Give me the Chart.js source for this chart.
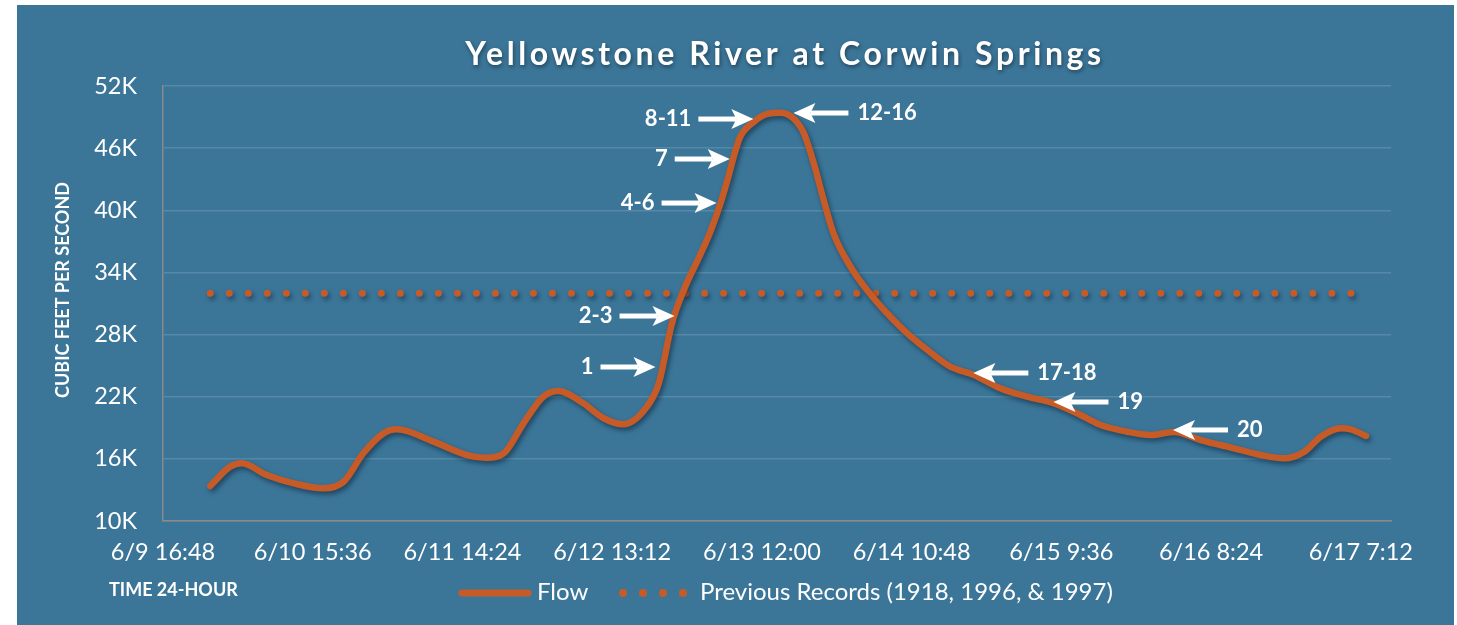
<!DOCTYPE html>
<html>
<head>
<meta charset="utf-8">
<script src="https://cdn.jsdelivr.net/npm/chart.js@4.4.0/dist/chart.umd.min.js"></script>
<style>
  html, body { margin:0; padding:0; background:#fff; }
  #wrap { position:relative; width:1457px; height:625px; }
</style>
</head>
<body>
<div id="wrap"><canvas id="flow_chart" width="1457" height="625"></canvas></div>
<script>
// hours after 6/9 16:48
const flowHours = [7.2, 10.2, 12.0, 15.8, 19.9, 24.4, 27.5, 30.5, 33.6, 35.6,
                   41.2, 46.3, 49.3, 51.9, 54.9, 57.9, 60.2, 64.0, 67.1, 70.1,
                   73.7, 75.5, 77.5, 79.3, 81.8, 83.4, 84.9, 86.1, 86.9, 87.9,
                   90.0, 92.0, 94.0, 96.0, 97.6, 99.1, 100.6, 102.1, 104.7, 107.2,
                   109.8, 112.8, 116.4, 119.9, 123.5, 127.5, 131.6, 135.7, 139.2, 142.8,
                   146.8, 150.4, 154.0, 158.0, 163.1, 167.2, 170.7, 173.8, 176.3, 179.4,
                   180.9, 183.2];
// cubic feet per second
const flowValues = [13380, 15240, 15570, 14440, 13640, 13160, 13790, 16540, 18470, 18850,
                    17660, 16370, 16110, 16540, 19430, 22000, 22550, 21360, 19920, 19340,
                    21040, 23300, 29090, 32300, 35700, 38000, 40670, 43240, 45170, 47100,
                    48550, 49300, 49420, 48880, 47430, 44540, 41000, 37780, 34550, 32300,
                    30370, 28440, 26510, 24900, 24100, 22810, 22000, 21360, 20400, 19270,
                    18620, 18300, 18600, 17820, 17020, 16370, 16050, 16690, 18140, 18950,
                    18850, 18210];
const recordValue = 32000;

const tickHours  = [0, 22.8, 45.6, 68.4, 91.2, 114.0, 136.8, 159.6, 182.4];
const tickLabels = ["6/9 16:48", "6/10 15:36", "6/11 14:24", "6/12 13:12", "6/13 12:00",
                    "6/14 10:48", "6/15 9:36", "6/16 8:24", "6/17 7:12"];

// numbered arrows pointing at the curve
const calloutLabels = ["1", "2-3", "4-6", "7", "8-11", "12-16", "17-18", "19", "20"];
const calloutHours  = [75.0, 77.9, 84.3, 86.3, 89.9, 96.0, 123.4, 135.6, 153.8];
const calloutValues = [24870, 29790, 40700, 44950, 48810, 49390, 24290, 21490, 18790];
const calloutSide   = ["left", "left", "left", "left", "left", "right", "right", "right", "right"];

const BG = "#3b7699";
const ORANGE = "#c65b27";
const FONT = "Lato, 'Open Sans', sans-serif";

const panelBg = {
  id: "panelBg",
  beforeDraw(chart){
    const ctx = chart.ctx;
    ctx.save();
    ctx.fillStyle = BG;
    ctx.fillRect(17, 5, 1437, 620);
    ctx.restore();
  }
};

const lineShadow = {
  id: "lineShadow",
  beforeDatasetDraw(chart){
    const ctx = chart.ctx;
    ctx.save();
    ctx.shadowColor = "rgba(10,30,50,0.55)";
    ctx.shadowBlur = 5;
    ctx.shadowOffsetX = 2;
    ctx.shadowOffsetY = 3;
  },
  afterDatasetDraw(chart){
    chart.ctx.restore();
  }
};

function drawArrow(ctx, tipX, tipY, dir){
  const len = 55, head = 22, half = 10, notch = 5;
  ctx.fillRect(Math.min(tipX - dir*len, tipX - dir*(head - notch)), tipY - 2.5,
               len - head + notch, 5);
  ctx.beginPath();
  ctx.moveTo(tipX, tipY);
  ctx.lineTo(tipX - dir*head, tipY - half);
  ctx.lineTo(tipX - dir*(head - notch), tipY);
  ctx.lineTo(tipX - dir*head, tipY + half);
  ctx.closePath();
  ctx.fill();
}

const overlay = {
  id: "overlay",
  afterDraw(chart){
    const ctx = chart.ctx;
    const xs = chart.scales.x, ys = chart.scales.y;
    ctx.save();
    ctx.fillStyle = "#fff";

    // title
    ctx.save();
    ctx.font = "bold 32px " + FONT;
    ctx.letterSpacing = "3.6px";
    ctx.textAlign = "center";
    ctx.textBaseline = "middle";
    ctx.shadowColor = "rgba(0,0,0,0.45)";
    ctx.shadowBlur = 4;
    ctx.shadowOffsetX = 1;
    ctx.shadowOffsetY = 2;
    ctx.fillText("Yellowstone River at Corwin Springs", 785, 55);
    ctx.restore();

    // axis titles
    ctx.save();
    ctx.font = "bold 18px " + FONT;
    ctx.translate(63, 290);
    ctx.rotate(-Math.PI/2);
    ctx.textAlign = "center";
    ctx.textBaseline = "middle";
    ctx.fillText("CUBIC FEET PER SECOND", 0, 0);
    ctx.restore();

    ctx.font = "bold 18px " + FONT;
    ctx.textAlign = "left";
    ctx.textBaseline = "middle";
    ctx.fillText("TIME 24-HOUR", 109, 590);

    // legend
    ctx.save();
    ctx.strokeStyle = ORANGE;
    ctx.lineCap = "round";
    ctx.lineWidth = 7;
    ctx.beginPath();
    ctx.moveTo(462, 593);
    ctx.lineTo(528, 593);
    ctx.stroke();
    ctx.fillStyle = ORANGE;
    [623, 643, 663, 683].forEach(x => {
      ctx.beginPath();
      ctx.arc(x, 593, 4, 0, Math.PI*2);
      ctx.fill();
    });
    ctx.restore();
    ctx.font = "24px " + FONT;
    ctx.fillText("Flow", 537, 592);
    ctx.fillText("Previous Records (1918, 1996, & 1997)", 700, 592);

    // callouts
    ctx.font = "bold 22px " + FONT;
    for(let i=0;i<calloutLabels.length;i++){
      const px = xs.getPixelForValue(calloutHours[i]);
      const py = ys.getPixelForValue(calloutValues[i]);
      const dir = calloutSide[i]=="left" ? 1 : -1;
      drawArrow(ctx, px, py, dir);
      ctx.textAlign = dir==1 ? "right" : "left";
      ctx.fillText(calloutLabels[i], px - dir*(55 + (dir==1?7:9)), py);
    }
    ctx.restore();
  }
};

new Chart(document.getElementById("flow_chart"), {
  type: "line",
  data: {
    datasets: [
      {
        label: "Flow",
        data: flowHours.map((h,i)=>({x:h, y:flowValues[i]})),
        borderColor: ORANGE,
        borderWidth: 6.5,
        borderCapStyle: "round",
        borderJoinStyle: "round",
        pointRadius: 0,
        cubicInterpolationMode: "monotone",
        fill: false
      },
      {
        label: "Previous Records (1918, 1996, & 1997)",
        data: [{x:flowHours[0], y:recordValue}, {x:flowHours[flowHours.length-1], y:recordValue}],
        borderColor: ORANGE,
        borderWidth: 7,
        borderCapStyle: "round",
        borderDash: [0.01, 19],
        pointRadius: 0,
        fill: false
      }
    ]
  },
  options: {
    responsive: false,
    animation: false,
    layout: { padding: { left: 0, top: 86, right: 66, bottom: 0 } },
    plugins: { legend: { display: false }, title: { display: false }, tooltip: { enabled: false } },
    scales: {
      x: {
        type: "linear",
        min: 0,
        max: 187,
        afterBuildTicks: s => { s.ticks = tickHours.map(v=>({value:v})); },
        afterFit: s => { s.height = 104; },
        grid: { display: false, drawTicks: false },
        border: { display: true, color: "#8a8a8a", width: 1.5 },
        ticks: {
          autoSkip: false, maxRotation: 0, padding: 17,
          color: "#fff", font: { family: FONT, size: 23.5 },
          callback: (v, i) => tickLabels[i]
        }
      },
      y: {
        min: 10000,
        max: 52000,
        afterFit: s => { s.width = 163; },
        grid: { color: "rgba(255,255,255,0.14)", lineWidth: 1.5, drawTicks: false },
        border: { display: true, color: "#8a8a8a", width: 1.5 },
        ticks: {
          stepSize: 6000, padding: 26,
          color: "#fff", font: { family: FONT, size: 23.5 },
          callback: v => (v/1000) + "K"
        }
      }
    }
  },
  plugins: [panelBg, lineShadow, overlay]
});
</script>
</body>
</html>
